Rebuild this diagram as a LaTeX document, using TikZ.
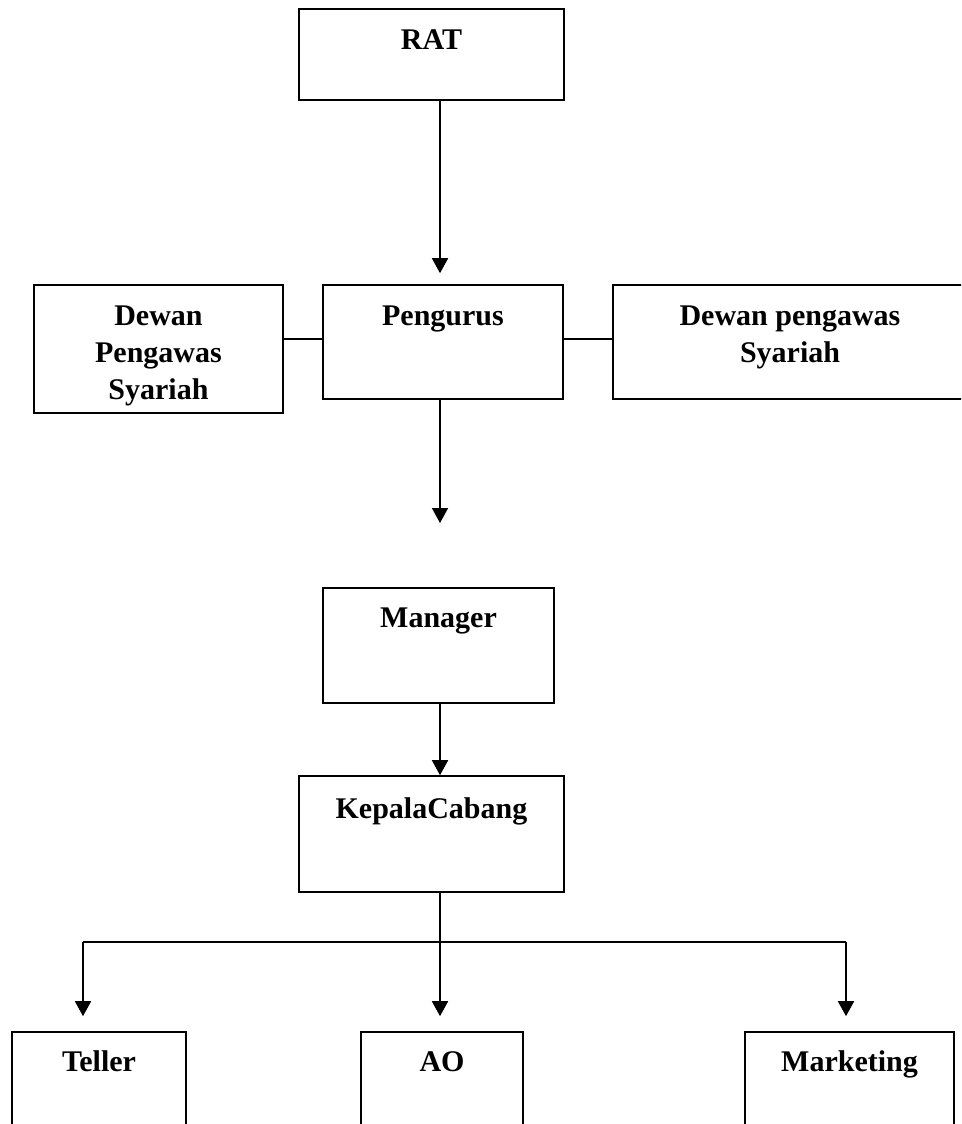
\documentclass[tikz,border=0pt]{standalone}
\usepackage{fontspec}
\setmainfont{Liberation Serif}
\usetikzlibrary{arrows.meta,calc}
\begin{document}
\begin{tikzpicture}[x=1pt,y=-1pt,
  box/.style={draw,line width=1.6pt,rectangle,inner sep=0pt},
  lbl/.style={font=\fontsize{30}{37}\selectfont\bfseries,anchor=base,align=center,inner sep=0pt},
  conn/.style={line width=1.6pt},
  arr/.style={line width=1.6pt,-{Triangle[length=15pt,width=16pt]}}]
\useasboundingbox (0,0) rectangle (961,1124);
\clip (0,0) rectangle (961,1124);
\fill[white] (0,0) rectangle (961,1124);
% helper coordinates
\coordinate (spine) at (440,0);
\coordinate (hy) at (0,339);
\coordinate (bus) at (0,942);
\coordinate (tx) at (83,942);
\coordinate (mx) at (846,942);
\coordinate (pengout) at (440,523);
% boxes
\node[box,minimum width=265pt,minimum height=91pt] (rat) at (431.5,54.5) {};
\node[box,minimum width=249pt,minimum height=128pt] (dps1) at (158.5,349) {};
\node[box,minimum width=240pt,minimum height=114pt] (peng) at (443,342) {};
\node[box,minimum width=354pt,minimum height=114pt] (dps2) at (790,342) {};
\node[box,minimum width=231pt,minimum height=115pt] (mgr) at (438.5,645.5) {};
\node[box,minimum width=265pt,minimum height=116pt] (kc) at (431.5,834) {};
\node[box,minimum width=174pt,minimum height=108pt] (teller) at (99,1086) {};
\node[box,minimum width=162pt,minimum height=108pt] (ao) at (442,1086) {};
\node[box,minimum width=209pt,minimum height=108pt] (mkt) at (849.5,1086) {};
% labels (base anchor of multi-line text = last line)
\node[lbl] (ratT) at (431.5,49) {RAT};
\node[lbl] (dps1T) at (158.5,399) {Dewan\\Pengawas\\Syariah};
\node[lbl] (pengT) at (443,325) {Pengurus};
\node[lbl] (dps2T) at (790,362) {Dewan pengawas\\Syariah};
\node[lbl] (mgrT) at (438.5,627) {Manager};
\node[lbl] (kcT) at (431.5,818) {KepalaCabang};
\node[lbl] (tellerT) at (99,1071) {Teller};
\node[lbl] (aoT) at (442,1071) {AO};
\node[lbl] (mktT) at (849.5,1071) {Marketing};
% connectors
\draw[arr,shorten >=11pt] (rat.south -| spine) -- (peng.north -| spine);
\draw[conn] (dps1.east |- hy) -- (peng.west |- hy);
\draw[conn] (peng.east |- hy) -- (dps2.west |- hy);
\draw[arr] (peng.south -| spine) -- (pengout);
\draw[arr] (mgr.south -| spine) -- (kc.north -| spine);
\draw[conn] (kc.south -| spine) -- (bus -| spine);
\draw[conn] (tx) -- (mx);
\draw[arr,shorten >=15pt] (tx) -- (tx |- teller.north);
\draw[arr,shorten >=15pt] (bus -| spine) -- (spine |- ao.north);
\draw[arr,shorten >=15pt] (mx) -- (mx |- mkt.north);
\end{tikzpicture}
\end{document}
